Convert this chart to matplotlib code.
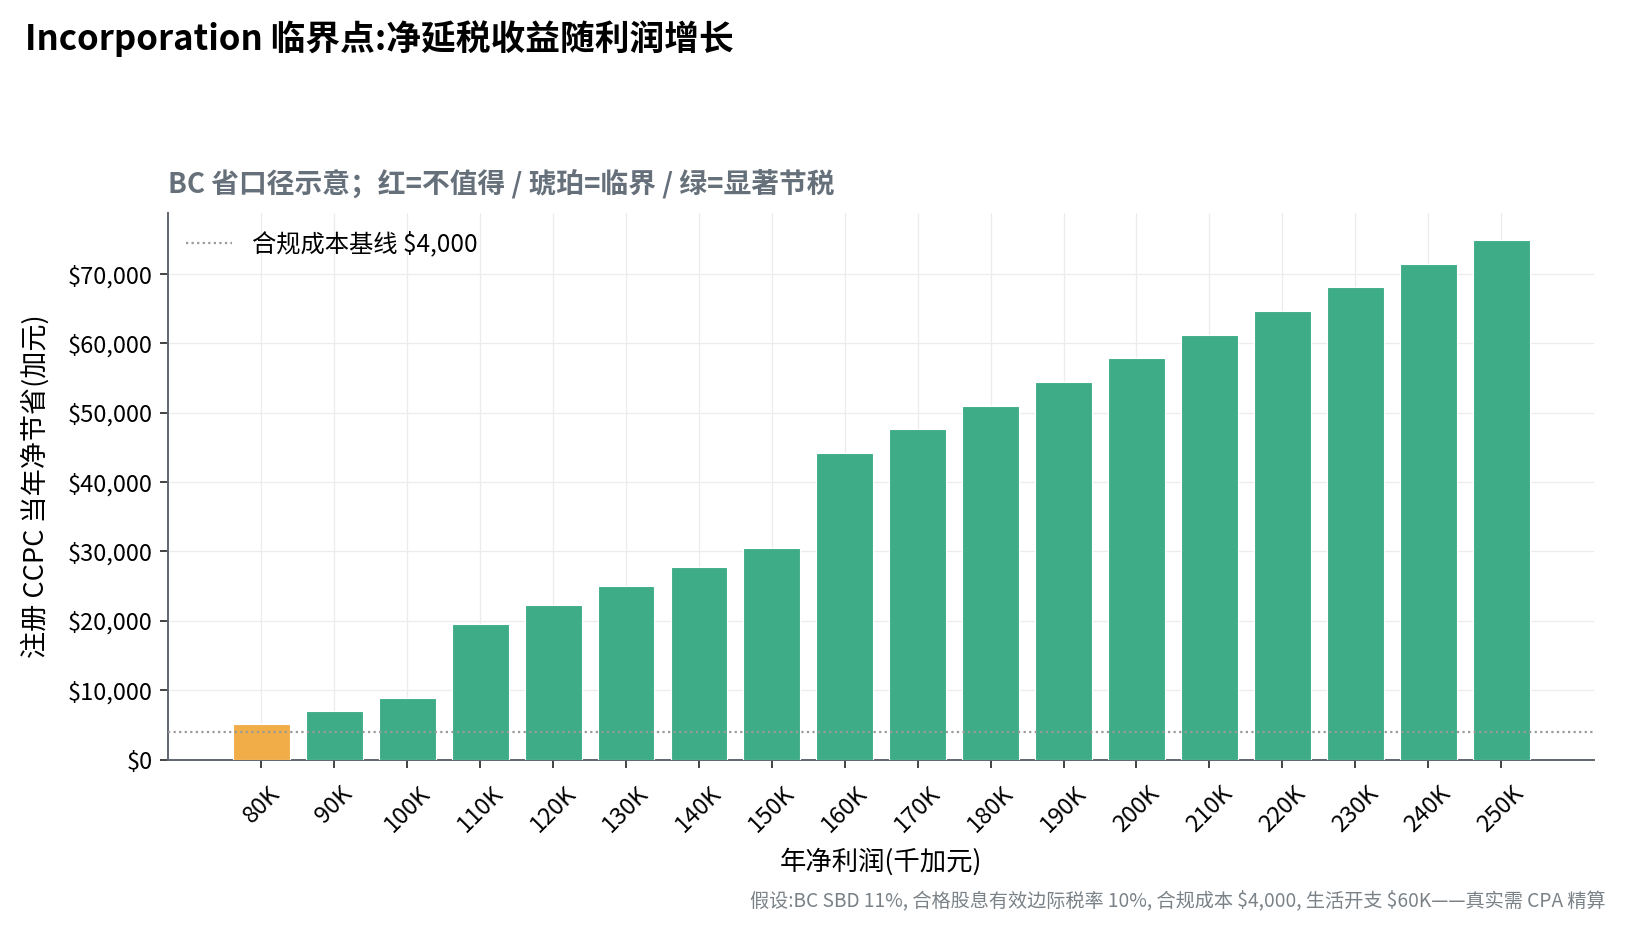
import matplotlib
matplotlib.use("Agg")
import matplotlib.pyplot as plt
from matplotlib.ticker import FuncFormatter, MultipleLocator

plt.rcParams['font.family'] = ['Noto Sans CJK SC', 'DejaVu Sans']

categories = ["80K", "90K", "100K", "110K", "120K", "130K", "140K", "150K", "160K",
              "170K", "180K", "190K", "200K", "210K", "220K", "230K", "240K", "250K"]
savings = [5100, 7000, 8850, 19500, 22230, 24960, 27700, 30430, 44250,
           47700, 51000, 54460, 57910, 61220, 64680, 68130, 71440, 74890]
status = ["amber"] + ["green"] * 17
baseline = 4000

palette = {"red": "#E0604F", "amber": "#F0AD48", "green": "#3EAC87"}
colors = [palette[s] for s in status]

fig = plt.figure(figsize=(16.27, 9.32), dpi=100)
ax = fig.add_axes([0.1033, 0.185, 0.8767, 0.5865])

x = list(range(len(categories)))
ax.bar(x, savings, width=0.78, color=colors, edgecolor="white", linewidth=0.8, zorder=3)
ax.axhline(baseline, color="#9a9a9a", linestyle=(0, (1, 1.5)), linewidth=1.6, zorder=4,
           label="合规成本基线 $4,000")

ax.set_xlim(-1.28, 18.28)
ax.set_ylim(0, 78800)
ax.set_xticks(x)
ax.set_xticklabels(categories, rotation=45, ha="center")
ax.yaxis.set_major_locator(MultipleLocator(10000))
ax.yaxis.set_major_formatter(FuncFormatter(lambda v, p: f"${v:,.0f}"))
ax.tick_params(axis="both", labelsize=17, length=6, width=1.2, color="#222222")
ax.tick_params(axis="y", pad=5)
ax.tick_params(axis="x", pad=10)

ax.grid(True, color="#ececec", linewidth=0.9, zorder=0)
for s in ["top", "right"]:
    ax.spines[s].set_visible(False)
for s in ["left", "bottom"]:
    ax.spines[s].set_color("#5f6670")
    ax.spines[s].set_linewidth(1.4)

ax.set_xlabel("年净利润(千加元)", fontsize=19, labelpad=8)
ax.set_ylabel("注册 CCPC 当年净节省(加元)", fontsize=19.5, labelpad=13)

leg = ax.legend(loc="upper left", frameon=False, fontsize=17.5, handlelength=1.9,
                borderaxespad=0.35)

fig.text(0.0154, 0.959, "Incorporation 临界点:净延税收益随利润增长", fontsize=25,
         fontweight="bold", va="center", ha="left")
ax.set_title("BC 省口径示意；红=不值得 / 琥珀=临界 / 绿=显著节税", loc="left",
             fontsize=20, fontweight="bold", color="#66707a", pad=15)
fig.text(0.987, 0.033,
         "假设:BC SBD 11%, 合格股息有效边际税率 10%, 合规成本 \\$4,000, 生活开支 \\$60K——真实需 CPA 精算",
         fontsize=13.8, color="#7a8288", ha="right", va="center")

fig.savefig("out.png", dpi=100)
